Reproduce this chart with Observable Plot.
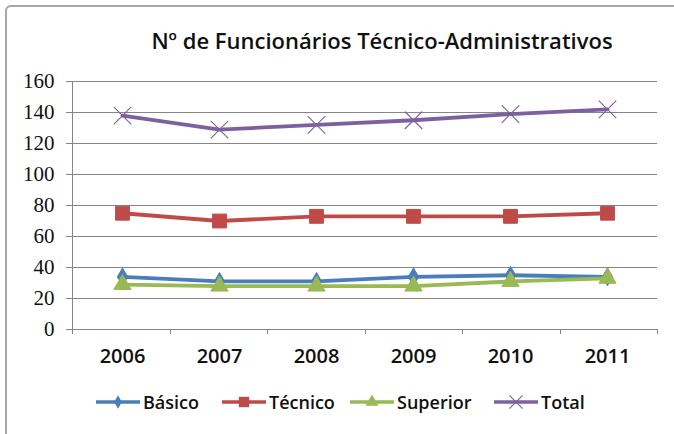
<!DOCTYPE html>
<html>
<head>
<meta charset="utf-8">
<script src="https://cdn.jsdelivr.net/npm/d3@7"></script>
<script src="https://cdn.jsdelivr.net/npm/@observablehq/plot@0.6"></script>
<style>
  html, body { margin: 0; padding: 0; background: #fff; overflow: hidden; }
  #wrap { position: relative; width: 674px; height: 434px; overflow: hidden; background: #fff; }
  #frame { position: absolute; left: 5px; top: 5px; width: 800px; height: 600px; border-top: 2px solid #a6a6a6; border-left: 2px solid #a6a6a6; border-top-left-radius: 6px; box-sizing: border-box; }
  #title { position: absolute; left: 0; width: 764px; top: 25px; text-align: center; font-family: "Open Sans", sans-serif; font-weight: 600; font-size: 22px; color: #111; white-space: nowrap; }
  #chart { position: absolute; left: 0; top: 0; }
  #legend { position: absolute; left: 0; top: 389px; width: 674px; height: 26px; font-family: "Open Sans", sans-serif; font-weight: 600; font-size: 18px; color: #111; }
  .item { position: absolute; top: 0; height: 26px; display: flex; align-items: center; white-space: nowrap; }
  .item svg { display: block; margin-right: 3px; }
</style>
</head>
<body>
<div id="wrap">
  <div id="frame"></div>
  <div id="chart"></div>
  <div id="title">Nº de Funcionários Técnico-Administrativos</div>
  <div id="legend"></div>
</div>
<script>
// ---- data ----
const years = ["2006", "2007", "2008", "2009", "2010", "2011"];
const seriesNames = ["Básico", "Técnico", "Superior", "Total"];
const basico   = [34, 31, 31, 34, 35, 34];
const tecnico  = [75, 70, 73, 73, 73, 75];
const superior = [29, 28, 28, 28, 31, 33];
const total    = [138, 129, 132, 135, 139, 142];
const yTicks = [0, 20, 40, 60, 80, 100, 120, 140, 160];

const seriesValues = [basico, tecnico, superior, total];
const colors = ["#4a7ebb", "#be4b48", "#98b954", "#7d60a0"];
const symbols = ["diamond", "square", "triangle", "times"];
const radii = [5.4, 7.8, 6.4, 8];
const legendX = [96, 222, 350, 494];

const rows = [];
seriesNames.forEach((s, k) => years.forEach((yr, i) => rows.push({series: s, year: yr, value: seriesValues[k][i]})));

const W = 674, H = 434;
const M = {top: 81, right: 17, bottom: 105, left: 72};

// axis line + category boundary ticks
function axisDecor(index, scales, values, dimensions) {
  const d = dimensions || {width: W, height: H, marginLeft: M.left, marginRight: M.right, marginTop: M.top, marginBottom: M.bottom};
  const x0 = d.marginLeft, x1 = d.width - d.marginRight;
  const yb = d.height - d.marginBottom, yt = d.marginTop;
  const g = d3.create("svg:g").attr("stroke", "#868686").attr("stroke-width", 1).attr("shape-rendering", "crispEdges");
  g.append("line").attr("x1", x0 + 0.5).attr("x2", x0 + 0.5).attr("y1", yt).attr("y2", yb + 5);
  const n = years.length;
  for (let i = 1; i <= n; i++) {
    const x = Math.round(x0 + (x1 - x0) * i / n) + 0.5;
    g.append("line").attr("x1", x).attr("x2", x).attr("y1", yb).attr("y2", yb + 5);
  }
  return g.node();
}

const marks = [
  Plot.gridY(yTicks, {stroke: "#868686", strokeOpacity: 1, strokeWidth: 1}),
  Plot.axisY(yTicks, {tickSize: 6, tickPadding: 12, stroke: "#868686", fontFamily: "Liberation Serif", fontSize: 21, fontWeight: "normal", fill: "#111"}),
  Plot.axisX({tickSize: 0, tickPadding: 19, fontFamily: "Open Sans", fontSize: 20, fontWeight: 600, fill: "#111"}),
  axisDecor
];
seriesNames.forEach((s, k) => {
  const data = rows.filter(r => r.series === s);
  marks.push(Plot.line(data, {x: "year", y: "value", stroke: colors[k], strokeWidth: 3.8, strokeLinejoin: "round"}));
  if (symbols[k] === "times") {
    marks.push(Plot.dot(data, {x: "year", y: "value", symbol: "times", r: radii[k], stroke: colors[k], strokeWidth: 1.1}));
  } else {
    marks.push(Plot.dot(data, {x: "year", y: "value", symbol: symbols[k], r: radii[k], fill: colors[k], stroke: colors[k], strokeWidth: 1}));
  }
});

const chart = Plot.plot({
  width: W, height: H,
  marginTop: M.top, marginRight: M.right, marginBottom: M.bottom, marginLeft: M.left,
  x: {type: "point", domain: years, padding: 0.5, label: null},
  y: {domain: [0, 160], label: null},
  style: {background: "transparent", overflow: "visible"},
  marks
});
document.getElementById("chart").appendChild(chart);

// legend
const legend = document.getElementById("legend");
seriesNames.forEach((s, k) => {
  const item = document.createElement("div");
  item.className = "item";
  item.style.left = legendX[k] + "px";
  const sv = d3.create("svg").attr("width", 44).attr("height", 26);
  sv.append("line").attr("x1", 0).attr("x2", 44).attr("y1", 13).attr("y2", 13).attr("stroke", colors[k]).attr("stroke-width", 3.4);
  const symMap = {diamond: d3.symbolDiamond, square: d3.symbolSquare, triangle: d3.symbolTriangle, times: d3.symbolTimes};
  const r = radii[k] * 0.75;
  const p = sv.append("path").attr("transform", "translate(22,13)").attr("d", d3.symbol(symMap[symbols[k]], Math.PI * r * r)());
  if (symbols[k] === "times") p.attr("fill", "none").attr("stroke", colors[k]).attr("stroke-width", 1.1);
  else p.attr("fill", colors[k]);
  item.appendChild(sv.node());
  const t = document.createElement("span");
  t.textContent = s;
  item.appendChild(t);
  legend.appendChild(item);
});
</script>
</body>
</html>
